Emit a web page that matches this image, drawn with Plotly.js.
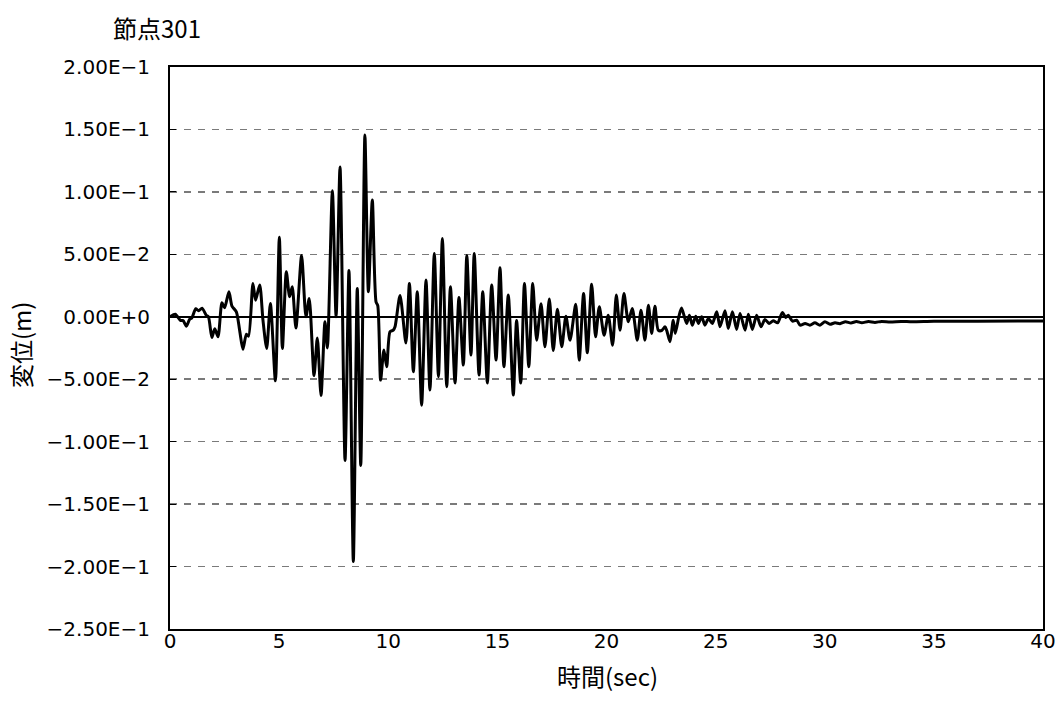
<!DOCTYPE html>
<html>
<head>
<meta charset="utf-8">
<script src="https://cdn.plot.ly/plotly-3.0.1.min.js"></script>
<style>html,body{margin:0;padding:0;background:#fff;}#chart{width:1064px;height:718px;}</style>
</head>
<body>
<div id="chart"></div>
<script>
// Time (sec) and displacement (m)
const timeSec = [
  0.00, 0.24, 0.49, 0.60, 0.75, 0.90, 1.00, 1.18, 1.31, 1.47, 1.66, 1.76, 1.92, 2.05, 2.20, 2.38, 2.50, 2.70, 2.84, 3.04,
  3.19, 3.34, 3.50, 3.60, 3.80, 3.92, 4.11, 4.26, 4.43, 4.60, 4.83, 5.01, 5.15, 5.33, 5.48, 5.60, 5.77, 6.03, 6.23, 6.38,
  6.60, 6.75, 6.92, 7.10, 7.21, 7.44, 7.61, 7.79, 8.02, 8.20, 8.40, 8.58, 8.74, 8.93, 9.09, 9.27, 9.44, 9.52, 9.65, 9.80,
  9.93, 10.08, 10.23, 10.31, 10.54, 10.81, 10.97, 11.15, 11.33, 11.53, 11.73, 11.91, 12.11, 12.30, 12.48, 12.68, 12.85, 13.06, 13.24, 13.44,
  13.60, 13.79, 13.94, 14.16, 14.33, 14.54, 14.74, 14.94, 15.12, 15.30, 15.50, 15.73, 15.88, 16.07, 16.24, 16.44, 16.62, 16.80, 17.00, 17.18,
  17.38, 17.56, 17.75, 17.95, 18.14, 18.33, 18.59, 18.75, 18.95, 19.12, 19.32, 19.50, 19.67, 19.89, 20.08, 20.28, 20.45, 20.62, 20.80, 21.00,
  21.18, 21.41, 21.58, 21.76, 21.92, 22.07, 22.22, 22.37, 22.53, 22.68, 22.76, 22.91, 23.06, 23.15, 23.32, 23.44, 23.67, 23.80, 23.93, 24.09,
  24.21, 24.36, 24.51, 24.67, 24.85, 25.05, 25.20, 25.43, 25.58, 25.77, 25.96, 26.12, 26.35, 26.50, 26.68, 26.88, 27.08, 27.26, 27.45, 27.64,
  27.84, 28.06, 28.21, 28.33, 28.52, 28.71, 28.87, 29.10, 29.32, 29.55, 29.78, 30.01, 30.24, 30.47, 30.70, 30.95, 31.20, 31.45, 31.70, 32.00,
  32.30, 32.60, 33.00, 33.50, 34.00, 35.00, 37.00, 40.00
];
const dispM = [
  0.0000, 0.0020, -0.0030, -0.0030, -0.0075, -0.0020, -0.0010, 0.0064, 0.0048, 0.0069, 0.0013, 0.0000, -0.0166, -0.0096, -0.0160, 0.0112, 0.0072, 0.0200, 0.0085, 0.0040,
  -0.0107, -0.0260, -0.0139, -0.0155, 0.0267, 0.0133, 0.0254, -0.0027, -0.0254, 0.0107, -0.0513, 0.0636, -0.0254, 0.0360, 0.0160, 0.0240, -0.0090, 0.0490, 0.0000, 0.0147,
  -0.0470, -0.0170, -0.0630, -0.0040, -0.0250, 0.1010, 0.0000, 0.1200, -0.1150, 0.0370, -0.1960, 0.0227, -0.1190, 0.1455, 0.0200, 0.0935, 0.0120, 0.0090, -0.0507, -0.0267,
  -0.0400, -0.0120, -0.0107, -0.0080, 0.0170, -0.0210, 0.0267, -0.0440, 0.0200, -0.0708, 0.0294, -0.0587, 0.0507, -0.0480, 0.0627, -0.0560, 0.0240, -0.0530, 0.0155, -0.0387,
  0.0490, -0.0307, 0.0507, -0.0467, 0.0200, -0.0530, 0.0254, -0.0347, 0.0392, -0.0400, 0.0174, -0.0627, -0.0030, -0.0530, 0.0267, -0.0400, 0.0267, -0.0187, 0.0104, -0.0240,
  0.0143, -0.0270, 0.0060, -0.0240, 0.0005, -0.0187, 0.0100, -0.0347, 0.0187, -0.0288, 0.0260, -0.0160, 0.0080, -0.0147, 0.0013, -0.0227, 0.0174, -0.0107, 0.0187, -0.0040,
  0.0067, -0.0187, 0.0053, -0.0187, 0.0093, -0.0133, 0.0085, -0.0107, -0.0110, -0.0080, -0.0110, -0.0200, -0.0027, -0.0133, 0.0005, 0.0070, -0.0053, 0.0013, -0.0067, 0.0005,
  -0.0053, 0.0000, -0.0067, -0.0013, -0.0053, 0.0040, -0.0080, 0.0048, -0.0093, 0.0040, -0.0101, 0.0027, -0.0107, 0.0021, -0.0101, 0.0013, -0.0080, -0.0021, -0.0053, -0.0032,
  -0.0048, 0.0035, -0.0005, 0.0013, -0.0035, -0.0027, -0.0067, -0.0053, -0.0067, -0.0048, -0.0067, -0.0040, -0.0060, -0.0048, -0.0055, -0.0040, -0.0050, -0.0038, -0.0048, -0.0038,
  -0.0045, -0.0037, -0.0042, -0.0037, -0.0040, -0.0036, -0.0035, -0.0034
];
const yTickVals = [0.2, 0.15, 0.1, 0.05, 0, -0.05, -0.1, -0.15, -0.2, -0.25];
const yTickText = ['2.00E\u22121', '1.50E\u22121', '1.00E\u22121', '5.00E\u22122', '0.00E+0', '\u22125.00E\u22122', '\u22121.00E\u22121', '\u22121.50E\u22121', '\u22122.00E\u22121', '\u22122.50E\u22121'];
const xTickVals = [0, 5, 10, 15, 20, 25, 30, 35, 40];
const chartTitle = '節点301';
const xTitle = '時間(sec)';
const yTitle = '変位(m)';

const CJK = '"Noto Sans CJK JP", "Noto Sans", sans-serif';
const NUM = '"DejaVu Sans", "Noto Sans CJK JP", sans-serif';

Plotly.newPlot('chart', [{
  x: timeSec, y: dispM, type: 'scatter', mode: 'lines',
  line: {color: '#000000', width: 3, shape: 'spline', smoothing: 0.7},
  hoverinfo: 'skip'
}], {
  width: 1064, height: 718,
  paper_bgcolor: '#ffffff', plot_bgcolor: '#ffffff',
  margin: {l: 170, r: 21, t: 67, b: 89},
  showlegend: false,
  font: {family: CJK, color: '#000000', size: 20},
  annotations: [
    {text: chartTitle, xref: 'paper', yref: 'paper', x: -0.0149, y: 1.0694, xanchor: 'center', yanchor: 'middle',
     showarrow: false, font: {family: CJK, size: 24, color: '#000'}},
    {text: xTitle, xref: 'paper', yref: 'paper', x: 0.5006, y: -0.0819, xanchor: 'center', yanchor: 'middle',
     showarrow: false, font: {family: CJK, size: 24, color: '#000'}},
    {text: yTitle, xref: 'paper', yref: 'paper', x: -0.1718, y: 0.5053, xanchor: 'center', yanchor: 'middle',
     textangle: -90, showarrow: false, font: {family: CJK, size: 24, color: '#000'}}
  ],
  xaxis: {
    range: [0, 40], tickvals: xTickVals, ticktext: xTickVals.map(String),
    showgrid: false, zeroline: false,
    showline: true, linecolor: '#000', linewidth: 2, mirror: true,
    ticks: '', ticklabelstandoff: -7, tickfont: {family: NUM, size: 20, color: '#000'}
  },
  yaxis: {
    range: [-0.25, 0.2], tickvals: yTickVals, ticktext: yTickText,
    showgrid: true, gridcolor: '#7a7a7a', gridwidth: 1.5, griddash: '7px,7px',
    zeroline: true, zerolinecolor: '#000', zerolinewidth: 2,
    showline: true, linecolor: '#000', linewidth: 2, mirror: true,
    ticks: 'inside', ticklen: 6, tickcolor: '#000', tickwidth: 1,
    ticklabelstandoff: 14,
    tickfont: {family: NUM, size: 20, color: '#000'}
  }
}, {displayModeBar: false, staticPlot: true});
</script>
</body>
</html>
